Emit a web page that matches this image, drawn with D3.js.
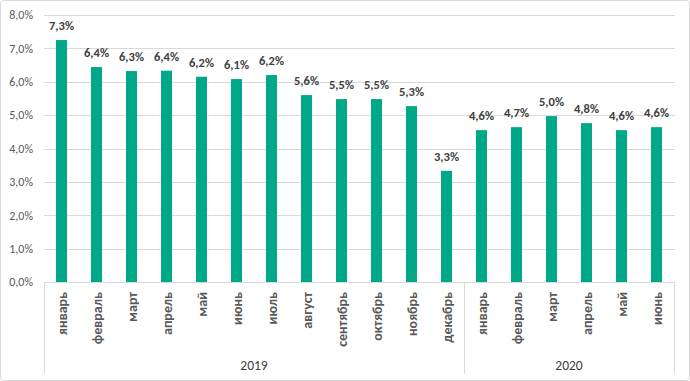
<!DOCTYPE html>
<html><head><meta charset="utf-8">
<script src="https://cdn.jsdelivr.net/npm/d3@7"></script>
<style>
html,body{margin:0;padding:0;background:#fff;}
text{font-family:Carlito,Calibri,"Open Sans","Liberation Sans",sans-serif;}
</style></head>
<body><svg id="c" width="690" height="381"></svg>
<script>
const months = ["январь","февраль","март","апрель","май","июнь","июль","август","сентябрь","октябрь","ноябрь","декабрь","январь","февраль","март","апрель","май","июнь"];
const years = ["2019","2019","2019","2019","2019","2019","2019","2019","2019","2019","2019","2019","2020","2020","2020","2020","2020","2020"];
const values = [7.25,6.44,6.32,6.33,6.15,6.08,6.2,5.6,5.48,5.48,5.27,3.33,4.55,4.64,4.97,4.76,4.55,4.64];
const labels = ["7,3%","6,4%","6,3%","6,4%","6,2%","6,1%","6,2%","5,6%","5,5%","5,5%","5,3%","3,3%","4,6%","4,7%","5,0%","4,8%","4,6%","4,6%"];
const yTicks = [0,1,2,3,4,5,6,7,8];

const svg = d3.select("#c");
const L = 44, R = 674, T = 15, B = 282;
svg.append("rect").attr("x",0.5).attr("y",0.5).attr("width",689).attr("height",380)
  .attr("fill","#fff").attr("stroke","#d9d9d9").attr("rx",3);

const keys = months.map((m,i)=>i);
const x = d3.scaleBand().domain(keys).range([L,R]).paddingInner(0.686).paddingOuter(0.343);
const y = d3.scaleLinear().domain([0,8]).range([B,T]);

// grid
svg.append("g").selectAll("line").data(yTicks.slice(1)).join("line")
  .attr("x1",L).attr("x2",R+1).attr("y1",d=>Math.round(y(d))+0.5).attr("y2",d=>Math.round(y(d))+0.5)
  .attr("stroke","#d9d9d9").attr("stroke-width",1);

// y axis labels
const yAxis = d3.axisLeft(y).tickValues(yTicks).tickSize(0).tickPadding(11)
  .tickFormat(d=>d3.format(".1f")(d).replace(".",",")+"%");
const ga = svg.append("g").attr("transform",`translate(${L},0)`).call(yAxis);
ga.select(".domain").remove();
ga.selectAll("text").attr("fill","#595959").style("font-size","12px");

// bars
svg.append("g").selectAll("rect").data(values).join("rect")
  .attr("x",(d,i)=>x(i)).attr("width",x.bandwidth())
  .attr("y",d=>y(d)).attr("height",d=>B-y(d)).attr("fill","#00a88a");

// data labels
svg.append("g").selectAll("text").data(values).join("text")
  .attr("x",(d,i)=>x(i)+x.bandwidth()/2).attr("y",d=>y(d)-10)
  .attr("text-anchor","middle").attr("fill","#404040")
  .style("font-size","12.5px").style("font-weight","bold")
  .text((d,i)=>labels[i]);

// x axis baseline
svg.append("line").attr("x1",L).attr("x2",R).attr("y1",B+0.5).attr("y2",B+0.5).attr("stroke","#d9d9d9");

// category labels
svg.append("g").selectAll("text").data(months).join("text")
  .attr("transform",(d,i)=>`translate(${x(i)+x.bandwidth()/2+5},${B+10}) rotate(-90)`)
  .attr("text-anchor","end").attr("fill","#595959")
  .style("font-size","14px").style("font-weight","bold")
  .text(d=>d);

// group separators
const groups = Array.from(new Set(years));
const step = x.step();
const bounds = [];
groups.forEach(g=>{
  const idx = years.map((v,i)=>v===g?i:-1).filter(i=>i>=0);
  bounds.push({g, x0: L + idx[0]*step, x1: L + (idx[idx.length-1]+1)*step});
});
const seps = [L].concat(bounds.map(b=>b.x1));
svg.append("g").selectAll("line").data(seps).join("line")
  .attr("x1",d=>Math.round(d)+0.5).attr("x2",d=>Math.round(d)+0.5)
  .attr("y1",B).attr("y2",374).attr("stroke","#d9d9d9");
svg.append("g").selectAll("text").data(bounds).join("text")
  .attr("x",d=>(d.x0+d.x1)/2).attr("y",370).attr("text-anchor","middle")
  .attr("fill","#404040").style("font-size","13.5px")
  .text(d=>d.g);
</script></body></html>
